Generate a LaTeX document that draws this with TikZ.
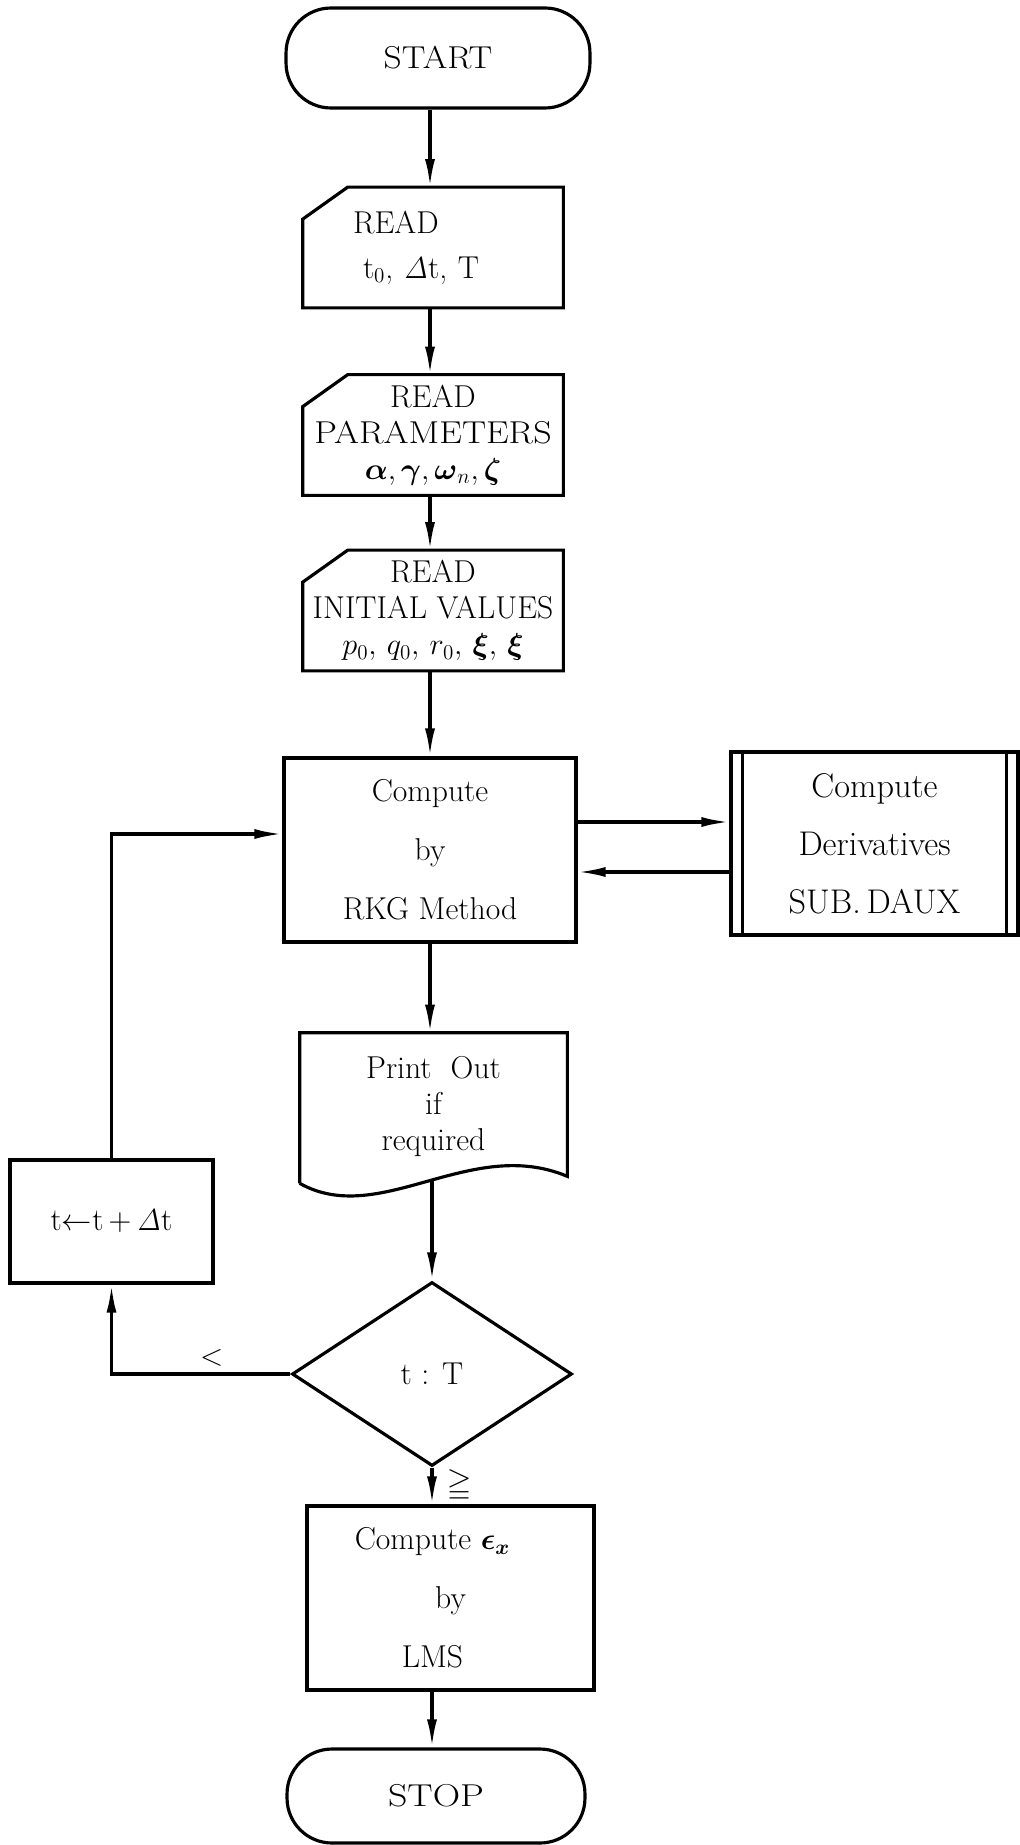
\documentclass[tikz,border=0pt]{standalone}
\usepackage{amsmath,amssymb}
\usepackage{graphicx}
\usetikzlibrary{shapes.geometric,arrows.meta}

\tikzset{
  flow/.style={line width=1.8pt},
  arr/.style={flow,-{Latex[length=0.56cm,width=0.2cm]}},
  term/.style={draw,flow,rounded corners=0.9cm,inner sep=0pt},
  procbox/.style={draw,flow,align=center,inner sep=0pt},
  readbox/.style={align=center,inner sep=0pt,minimum width=5.2cm,minimum height=2.4cm},
  decide/.style={draw,flow,diamond,inner sep=0pt,minimum width=5.6cm,minimum height=3.68cm},
}
\newcommand{\dt}{$\mathit{\Delta}$t}
\newcommand{\wide}[2]{\scalebox{#1}[1]{#2}}

\begin{document}
\begin{tikzpicture}[x=0.02cm,y=-0.02cm,font=\fontsize{18}{20.5}\selectfont]
\useasboundingbox (0,0) rectangle (1020,1845);
\coordinate (axis) at (430,0);

% main column
\node[term,minimum width=6.08cm,minimum height=2cm] (start) at (438,58) {\wide{1.12}{START}};
\node[readbox,align=left,text width=3.2cm] (read1) at (433,247.5) {READ\\[5pt]\hspace*{0.2cm}t$_0$, \dt, T};
\node[readbox] (read2) at (433,435) {READ\\\wide{1.14}{PARAMETERS}\\$\boldsymbol{\alpha}, \boldsymbol{\gamma}, \boldsymbol{\omega}_n, \boldsymbol{\zeta}$};
\node[readbox] (read3) at (433,610.5) {READ\\INITIAL VALUES\\$p_0,\, q_0,\, r_0,\, \boldsymbol{\xi},\, \boldsymbol{\xi}$};
\foreach \n in {read1,read2,read3}
  \draw[flow] ([xshift=0.9cm]\n.north west) -- (\n.north east) -- (\n.south east)
    -- (\n.south west) -- ([yshift=-0.64cm]\n.north west) -- cycle;

\node[procbox,minimum width=5.84cm,minimum height=3.68cm] (compute) at (430,850) {Compute\\[13pt]by\\[13pt]RKG Method};
\node[procbox,minimum width=5.74cm,minimum height=3.66cm,font=\fontsize{19.5}{22}\selectfont] (daux) at (874.5,843.5) {Compute\\[11pt]Derivatives\\[11pt]SUB.\,DAUX};
\draw[flow] ([xshift=0.26cm]daux.north west) -- ([xshift=0.26cm]daux.south west);
\draw[flow] ([xshift=-0.26cm]daux.north east) -- ([xshift=-0.26cm]daux.south east);

\node[align=center,inner sep=0pt,minimum width=5.34cm,minimum height=2.94cm] (print) at (433.5,1106.5) {Print\ \ Out\\if\\required};
\draw[flow] ([yshift=-0.06cm]print.south west) -- (print.north west) -- (print.north east)
  -- ([yshift=0.08cm]print.south east)
  .. controls ([xshift=0.73cm,yshift=0.9cm]print.south) and ([xshift=-1.07cm,yshift=-0.96cm]print.south)
  .. ([yshift=-0.06cm]print.south west);

\node[decide] (test) at (432,1374) {t : T};
\node[procbox,minimum width=5.74cm,minimum height=3.68cm] (lms) at (450.5,1598)
  {Compute $\boldsymbol{\epsilon}_{\boldsymbol{x}}$\hspace*{0.72cm}\\[13pt]by\hspace*{0.72cm}\\[13pt]LMS\hspace*{0.72cm}};
\node[term,minimum width=5.96cm,minimum height=1.88cm] (stop) at (436,1796) {\wide{1.2}{STOP}};

% loop box
\node[procbox,minimum width=4.06cm,minimum height=2.46cm] (incr) at (111.5,1221.5) {t$\leftarrow$t\,+\,\dt};

% connectors
\draw[arr] (start.south -| axis) -- (read1.north -| axis);
\draw[arr] (read1.south -| axis) -- (read2.north -| axis);
\draw[arr] (read2.south -| axis) -- (read3.north -| axis);
\draw[arr] (read3.south -| axis) -- (compute.north -| axis);
\draw[arr] (compute.south -| axis) -- (print.north -| axis);
\draw[arr] (print.south -| test.north) -- (test.north);
\draw[arr] (test.south) -- (test.south |- lms.north) node[midway,right,xshift=0.15cm] (ge) {$\geqq$};
\draw[arr] (lms.south -| test.south) -- (stop.north -| test.south);
\draw[arr] (test.west) -| node[pos=0.22,above] (lt) {$<$} (incr.south);
\draw[arr] (incr.north) |- ([yshift=0.32cm]compute.west);
\draw[arr] ([yshift=0.56cm]compute.east) -- ([yshift=0.56cm]compute.east -| daux.west);
\draw[arr] ([yshift=-0.57cm]daux.west) -- ([yshift=-0.57cm]daux.west -| compute.east);
\end{tikzpicture}
\end{document}
